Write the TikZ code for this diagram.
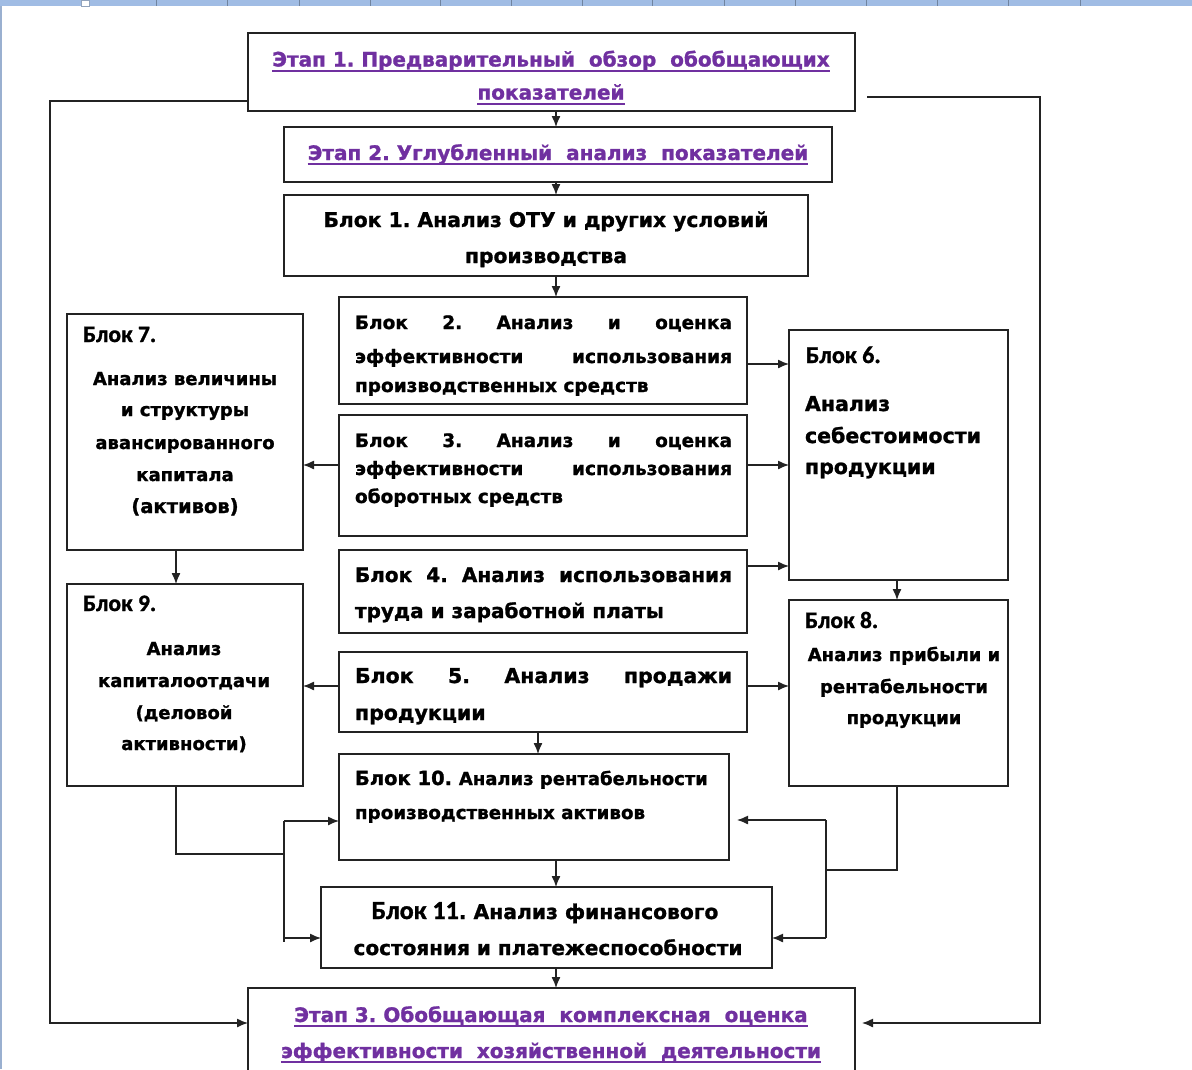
\documentclass[tikz,border=0pt]{standalone}
\usepackage{fontspec}
\setmainfont{DejaVu Sans}[BoldFeatures={FakeBold=1.2}]
\newfontfamily\calfnt{Carlito}[BoldFeatures={FakeBold=1.2}]
\usetikzlibrary{arrows.meta}
\definecolor{purp}{RGB}{112,48,160}
\definecolor{rulerblue}{RGB}{160,188,228}
\definecolor{edge}{RGB}{35,35,35}
\newcommand\fz[1]{\fontsize{#1}{#1}\selectfont\bfseries}
\newcommand\etx[1]{\textcolor{purp}{\setbox0\hbox{#1}\rlap{\rule[-5pt]{\wd0}{1.6pt}}\box0}}
\newcommand\jl[1]{\makebox[377pt][s]{#1}}
\frenchspacing
\tikzset{
  box/.style={draw=edge, line width=1.3pt, inner sep=0pt, outer sep=0pt, anchor=north west, fill=white},
  arr/.style={draw=edge, line width=1.3pt, -{Latex[length=11pt,width=9pt]}},
  ln/.style={draw=edge, line width=1.3pt},
  lt/.style={inner sep=0pt, outer sep=0pt, anchor=base west},
  ct/.style={inner sep=0pt, outer sep=0pt, anchor=base},
}
\begin{document}
\begin{tikzpicture}[x=1pt,y=-1pt]
\useasboundingbox (0,0) rectangle (1192,1069);
\clip (0,0) rectangle (1192,1069);
\fill[white] (0,0) rectangle (1192,1069);
% ruler strip of the screenshot
\fill[rulerblue] (0,0) rectangle (1192,6);
\foreach \tx in {156,227,299,370,440,511,582,652,724,795,866,937,1008,1080}
  \draw[rulerblue!70!black, line width=0.6pt] (\tx,0) -- (\tx,6);
\fill[white, draw=rulerblue!60!gray, line width=0.5pt] (81,0) rectangle (89,6);
\draw[rulerblue!80!gray, line width=1.6pt] (1,6) -- (1,1069);

% helper coordinates
\coordinate (ax) at (556,0);
\coordinate (bx) at (538,0);
\coordinate (cx) at (176,0);
\coordinate (dx) at (897,0);
\coordinate (lx) at (50,560);
\coordinate (rx) at (1040,560);
\coordinate (r0) at (867,97);
\coordinate (jl) at (284,854);
\coordinate (jlt) at (284,821);
\coordinate (jlb) at (284,938);
\coordinate (jle) at (284,942);
\coordinate (jr) at (826,870);
\coordinate (jrt) at (826,820);
\coordinate (jrb) at (826,938);

% boxes
\node[box, minimum width=607pt, minimum height=78pt] (e1) at (248,33) {};
\node[box, minimum width=548pt, minimum height=55pt] (e2) at (284,127) {};
\node[box, minimum width=524pt, minimum height=81pt] (b1) at (284,195) {};
\node[box, minimum width=408pt, minimum height=107pt] (b2) at (339,297) {};
\node[box, minimum width=408pt, minimum height=121pt] (b3) at (339,415) {};
\node[box, minimum width=408pt, minimum height=83pt] (b4) at (339,550) {};
\node[box, minimum width=408pt, minimum height=80pt] (b5) at (339,652) {};
\node[box, minimum width=390pt, minimum height=106pt] (b10) at (339,754) {};
\node[box, minimum width=451pt, minimum height=81pt] (b11) at (321,887) {};
\node[box, minimum width=607pt, minimum height=100pt] (e3) at (248,988) {};
\node[box, minimum width=236pt, minimum height=236pt] (b7) at (67,314) {};
\node[box, minimum width=236pt, minimum height=202pt] (b9) at (67,584) {};
\node[box, minimum width=219pt, minimum height=250pt] (b6) at (789,330) {};
\node[box, minimum width=219pt, minimum height=186pt] (b8) at (789,600) {};

% texts
\node[ct] (te1a) at (551,66.5) {\fz{20}\etx{Этап 1. Предварительный\ \ обзор\ \ обобщающих}};
\node[ct] (te1b) at (551,99.5) {\fz{20}\etx{показателей}};
\node[ct] (te2) at (558,160) {\fz{20}\etx{Этап 2. Углубленный\ \ анализ\ \ показателей}};
\node[ct] (tb1a) at (546,227) {\fz{20.3}Блок 1. Анализ ОТУ и других условий};
\node[ct] (tb1b) at (546,263) {\fz{20.3}производства};
\node[lt] (tb2a) at (355,329) {\fz{18.5}\jl{Блок 2. Анализ и оценка}};
\node[lt] (tb2b) at (355,363) {\fz{18.5}\jl{эффективности использования}};
\node[lt] (tb2c) at (355,392) {\fz{18.5}производственных средств};
\node[lt] (tb3a) at (355,447) {\fz{18.5}\jl{Блок 3. Анализ и оценка}};
\node[lt] (tb3b) at (355,475) {\fz{18.5}\jl{эффективности использования}};
\node[lt] (tb3c) at (355,503) {\fz{18.5}оборотных средств};
\node[lt] (tb4a) at (355,582) {\fz{20}\jl{Блок 4. Анализ использования}};
\node[lt] (tb4b) at (355,618) {\fz{20}труда и заработной платы};
\node[lt] (tb5a) at (355,683) {\fz{20.5}\jl{Блок 5. Анализ продажи}};
\node[lt] (tb5b) at (355,720) {\fz{20.5}продукции};
\node[lt] (tb10a) at (355,785) {\fz{19.5}Блок 10. \fz{18}Анализ рентабельности};
\node[lt] (tb10b) at (355,819) {\fz{18.3}производственных активов};
\node[ct] (tb11a) at (545,919) {{\calfnt\fz{26}Блок 11}\fz{20.3}. Анализ финансового};
\node[ct] (tb11b) at (548,955) {\fz{20}состояния и платежеспособности};
\node[ct] (te3a) at (551,1022) {\fz{20}\etx{Этап 3. Обобщающая\ \ комплексная\ \ оценка}};
\node[ct] (te3b) at (551,1058) {\fz{20}\etx{эффективности\ \ хозяйственной\ \ деятельности}};
\node[lt] (tb7a) at (83,342) {\calfnt\fz{23.5}Блок 7.};
\node[ct] (tb7b) at (185,385) {\fz{18}Анализ величины};
\node[ct] (tb7c) at (185,416) {\fz{18}и структуры};
\node[ct] (tb7d) at (185,449) {\fz{18}авансированного};
\node[ct] (tb7e) at (185,481) {\fz{18}капитала};
\node[ct] (tb7f) at (185,513) {\fz{19.5}(активов)};
\node[lt] (tb9a) at (83,611) {\calfnt\fz{23.5}Блок 9.};
\node[ct] (tb9b) at (184,655) {\fz{18}Анализ};
\node[ct] (tb9c) at (184,687) {\fz{18}капиталоотдачи};
\node[ct] (tb9d) at (184,719) {\fz{18}(деловой};
\node[ct] (tb9e) at (184,750) {\fz{18}активности)};
\node[lt] (tb6a) at (806,363) {\calfnt\fz{24}Блок 6.};
\node[lt] (tb6b) at (805,411) {\fz{20.5}Анализ};
\node[lt] (tb6c) at (805,443) {\fz{20.5}себестоимости};
\node[lt] (tb6d) at (805,474) {\fz{20.5}продукции};
\node[lt] (tb8a) at (805,628) {\calfnt\fz{23.5}Блок 8.};
\node[ct] (tb8b) at (904,661) {\fz{18}Анализ прибыли и};
\node[ct] (tb8c) at (904,693) {\fz{18}рентабельности};
\node[ct] (tb8d) at (904,724) {\fz{18}продукции};

% main vertical flow
\draw[arr] (e1.south -| ax) -- (e2.north -| ax);
\draw[arr] (e2.south -| ax) -- (b1.north -| ax);
\draw[arr] (b1.south -| ax) -- (b2.north -| ax);
\draw[arr] (b5.south -| bx) -- (b10.north -| bx);
\draw[arr] (b10.south -| ax) -- (b11.north -| ax);
\draw[arr] (b11.south -| ax) -- (e3.north -| ax);

% right-hand arrows to block 6 and 8
\draw[arr] (b2.east |- 0,364) -- (b6.west |- 0,364);
\draw[arr] (b3.east |- 0,465) -- (b6.west |- 0,465);
\draw[arr] (b4.east |- 0,566) -- (b6.west |- 0,566);
\draw[arr] (b5.east |- 0,686) -- (b8.west |- 0,686);
\draw[arr] (b6.south -| dx) -- (b8.north -| dx);

% left-hand arrows to block 7 and 9
\draw[arr] (b3.west |- 0,465) -- (b7.east |- 0,465);
\draw[arr] (b5.west |- 0,686) -- (b9.east |- 0,686);
\draw[arr] (b7.south -| cx) -- (b9.north -| cx);

% block 9 -> blocks 10, 11
\draw[ln] (b9.south -| cx) |- (jl);
\draw[ln] (jlt) -- (jle);
\draw[arr] (jlt) -- (b10.west |- jlt);
\draw[arr] (jlb) -- (b11.west |- jlb);

% block 8 -> blocks 10, 11
\draw[ln] (b8.south -| dx) |- (jr);
\draw[ln] (jrt) -- (jrb);
\draw[arr, shorten >=8pt] (jrt) -- (b10.east |- jrt);
\draw[arr] (jrb) -- (b11.east |- jrb);

% outer loops: stage 1 -> stage 3
\draw[arr] (e1.west |- 0,101) -| (lx) |- (e3.west |- 0,1023);
\draw[arr, shorten >=7pt] (r0) -| (rx) |- (e3.east |- 0,1023);
\end{tikzpicture}
\end{document}
